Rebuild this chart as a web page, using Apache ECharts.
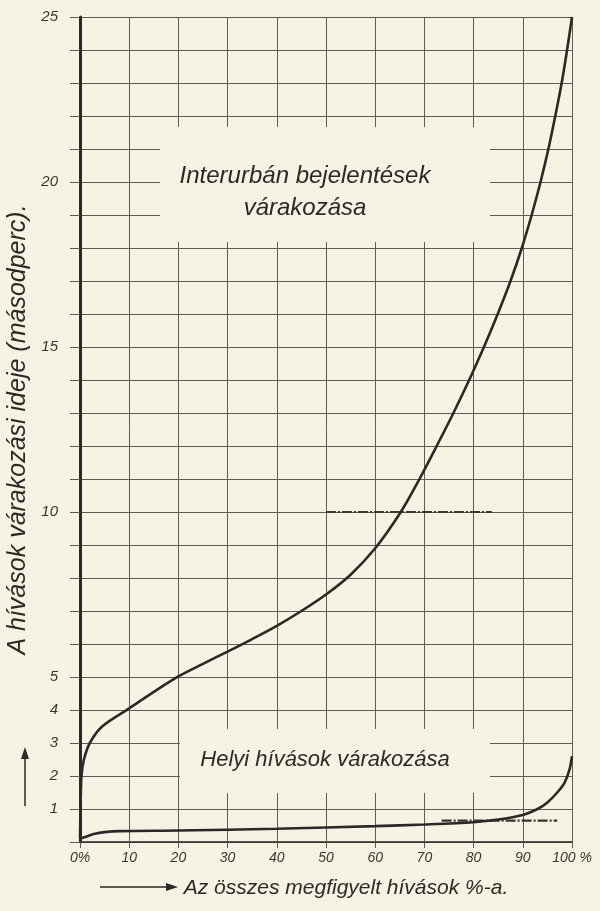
<!DOCTYPE html>
<html><head><meta charset="utf-8">
<script src="https://cdn.jsdelivr.net/npm/echarts@6/dist/echarts.min.js"></script>
<style>html,body{margin:0;padding:0;background:#f6f2e4;} #c{width:600px;height:911px;}</style>
</head><body><div id="c"></div>
<script>
// --- data ---
const interPct  = [0, 0.1, 0.3, 0.8, 2, 4.5, 10, 15, 20, 25, 30, 35, 40, 45, 50, 55, 60, 65.2, 69.0, 72.5, 75.9, 79.1, 82.1, 84.9, 87.5, 89.8, 91.8, 93.6, 95.2, 96.6, 97.9, 99.0, 100];
const interWait = [0.1, 1.0, 2.0, 2.5, 3.0, 3.5, 4.05, 4.55, 5.02, 5.4, 5.77, 6.15, 6.55, 7.0, 7.5, 8.1, 8.9, 10, 11, 12, 13, 14, 15, 16, 17, 18, 19, 20, 21, 22, 23, 24, 25];
const localPct  = [0, 1, 3, 5, 8, 20, 40, 60, 70, 80, 85, 90, 93, 95, 97, 98.5, 99.5, 100];
const localWait = [0.1, 0.15, 0.25, 0.3, 0.33, 0.35, 0.4, 0.48, 0.53, 0.6, 0.68, 0.82, 1.0, 1.2, 1.5, 1.8, 2.2, 2.6];
const refUpperPct = [50, 83.7];
const refUpperWait = [10, 10];
const refLowerPct = [73.5, 97];
const refLowerWait = [0.65, 0.65];
const xTickValues = [0, 10, 20, 30, 40, 50, 60, 70, 80, 90, 100];
const xTickLabels = ['0%', '10', '20', '30', '40', '50', '60', '70', '80', '90', '100 %'];
const yTickLabels = [1, 2, 3, 4, 5, 10, 15, 20, 25];
const labelInter = ['Interurbán bejelentések', 'várakozása'];
const labelLocal = 'Helyi hívások várakozása';
const xTitle = 'Az összes megfigyelt hívások %-a.';
const yTitle = 'A hívások várakozási ideje (másodperc).';

const zip = (a, b) => a.map((v, i) => [v, b[i]]);
const BG = '#f6f2e4';
const INK = '#2b2925';
const GRIDC = '#5f5b55';
const FONT = 'Liberation Sans';

const chart = echarts.init(document.getElementById('c'));
chart.setOption({
  backgroundColor: BG,
  animation: false,
  grid: { left: 80, right: 28, top: 17, bottom: 69, containLabel: false, outerBoundsMode: 'none' },
  xAxis: {
    type: 'value', min: 0, max: 100, interval: 10,
    axisLine: { show: true, lineStyle: { color: INK, width: 1.5 } },
    axisTick: { show: true, length: 6, lineStyle: { color: GRIDC } },
    splitLine: { show: true, lineStyle: { color: GRIDC, width: 1 } },
    axisLabel: {
      margin: 9, color: '#3a3732', fontFamily: FONT, fontStyle: 'italic', fontSize: 14,
      formatter: v => { const i = xTickValues.indexOf(v); return i >= 0 ? xTickLabels[i] : ''; }
    },
    name: xTitle, nameLocation: 'middle', nameGap: 36,
    nameTextStyle: { color: INK, fontFamily: FONT, fontStyle: 'italic', fontSize: 21, padding: [0, 0, 0, 40] }
  },
  yAxis: {
    type: 'value', min: 0, max: 25, interval: 1,
    axisLine: { show: true, lineStyle: { color: INK, width: 3 } },
    axisTick: { show: true, length: 10, lineStyle: { color: GRIDC } },
    splitLine: { show: true, lineStyle: { color: GRIDC, width: 1 } },
    axisLabel: {
      margin: 22, color: '#3a3732', fontFamily: FONT, fontStyle: 'italic', fontSize: 15,
      formatter: v => yTickLabels.indexOf(v) >= 0 ? String(v) : ''
    },
    name: yTitle, nameLocation: 'middle', nameGap: 45, nameRotate: 90,
    nameTextStyle: { color: INK, fontFamily: FONT, fontStyle: 'italic', fontSize: 25 }
  },
  graphic: [
    { type: 'rect', z: 1, shape: { x: 160, y: 127, width: 330, height: 115 }, style: { fill: BG } },
    { type: 'text', z: 2, x: 305, y: 176, style: { text: labelInter[0], fill: INK, font: 'italic 24px "Liberation Sans"', align: 'center', verticalAlign: 'middle' } },
    { type: 'text', z: 2, x: 305, y: 208, style: { text: labelInter[1], fill: INK, font: 'italic 24px "Liberation Sans"', align: 'center', verticalAlign: 'middle' } },
    { type: 'rect', z: 1, shape: { x: 180, y: 729, width: 310, height: 64 }, style: { fill: BG } },
    { type: 'text', z: 2, x: 325, y: 760, style: { text: labelLocal, fill: INK, font: 'italic 22px "Liberation Sans"', align: 'center', verticalAlign: 'middle' } },
    // axis arrows
    { type: 'line', z: 2, shape: { x1: 100, y1: 887, x2: 172, y2: 887 }, style: { stroke: INK, lineWidth: 1.5 } },
    { type: 'polygon', z: 2, shape: { points: [[178, 887], [166, 883], [166, 891]] }, style: { fill: INK } },
    { type: 'line', z: 2, shape: { x1: 25, y1: 806, x2: 25, y2: 754 }, style: { stroke: INK, lineWidth: 1.5 } },
    { type: 'polygon', z: 2, shape: { points: [[25, 747], [21, 759], [29, 759]] }, style: { fill: INK } }
  ],
  series: [
    { type: 'line', name: labelInter.join(' '), z: 5, data: zip(interPct, interWait), smooth: 0.3,
      showSymbol: false, lineStyle: { color: INK, width: 2.6 } },
    { type: 'line', name: labelLocal, z: 5, data: zip(localPct, localWait), smooth: 0.3,
      showSymbol: false, lineStyle: { color: INK, width: 2.6 } },
    { type: 'line', z: 4, data: zip(refUpperPct, refUpperWait), showSymbol: false,
      lineStyle: { color: '#3a3732', width: 2.2, type: [10, 2, 2, 2] } },
    { type: 'line', z: 4, data: zip(refLowerPct, refLowerWait), showSymbol: false,
      lineStyle: { color: '#3a3732', width: 2.2, type: [10, 2, 2, 2] } }
  ]
});
</script></body></html>
